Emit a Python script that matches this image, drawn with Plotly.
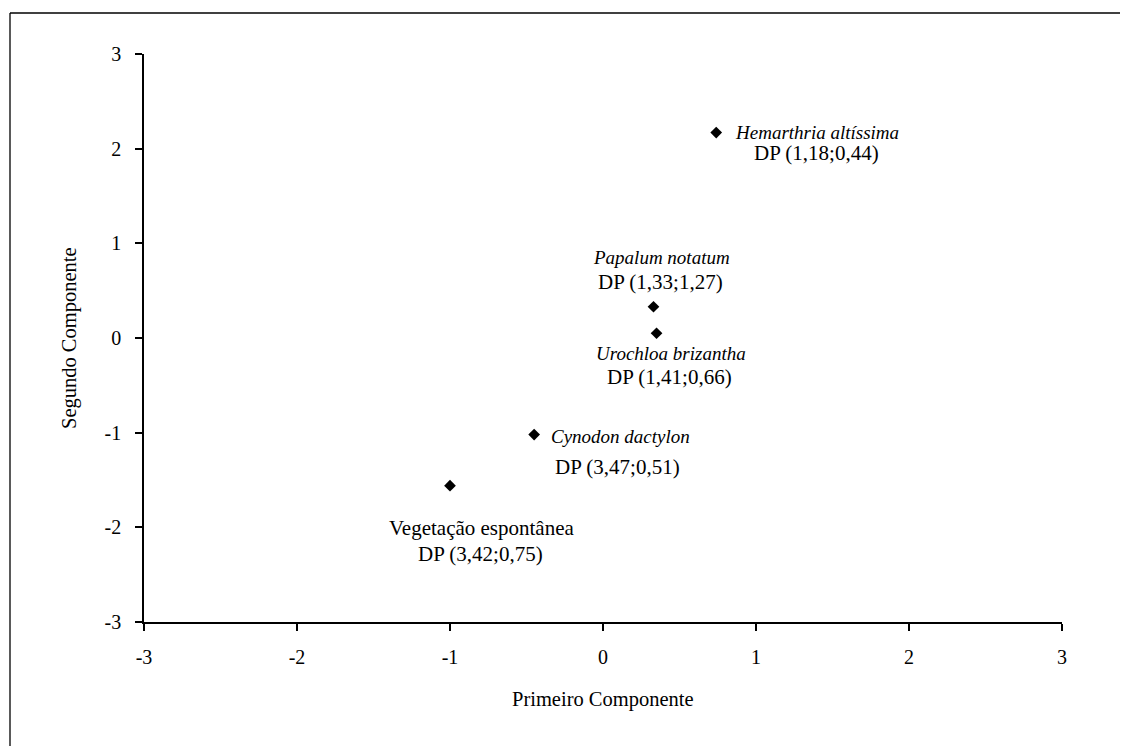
import plotly.graph_objects as go

# ---- data ----
species = ["Hemarthria altíssima", "Papalum notatum", "Urochloa brizantha",
           "Cynodon dactylon", "Vegetação espontânea"]
italic = [True, True, True, True, False]
dp_labels = ["DP (1,18;0,44)", "DP (1,33;1,27)", "DP (1,41;0,66)",
             "DP (3,47;0,51)", "DP (3,42;0,75)"]
pc1 = [0.74, 0.33, 0.35, -0.45, -1.00]
pc2 = [2.17, 0.33, 0.05, -1.02, -1.56]
tick_vals = [-3, -2, -1, 0, 1, 2, 3]
tick_text = ["-3", "-2", "-1", "0", "1", "2", "3"]

# label placement (pixel offsets of each text line centre from its point: dx, dy-down)
name_offsets = [(101, 0), (8, -49), (14, 20), (86, 2), (31, 42)]
dp_offsets = [(100, 20), (7, -25), (13, 44), (83, 32), (30, 68)]

FONT = "Liberation Serif"
W, H = 1120, 738          # page body has an 8px margin
ML, MR, MT, MB = 136, 66, 46, 124

fig = go.Figure()
fig.add_trace(go.Scatter(
    x=pc1, y=pc2, mode="markers",
    marker=dict(symbol="diamond", size=9, color="black"),
    hoverinfo="skip", showlegend=False,
))

annotations = []
for i in range(len(species)):
    if italic[i]:
        name, nsize = f"<i>{species[i]}</i>", 19
    else:
        name, nsize = species[i], 21
    for txt, (dx, dy), fs in ((name, name_offsets[i], nsize), (dp_labels[i], dp_offsets[i], 21)):
        annotations.append(dict(
            x=pc1[i], y=pc2[i], xref="x", yref="y", text=txt, showarrow=False,
            xanchor="center", yanchor="middle", xshift=dx, yshift=-dy,
            font=dict(family=FONT, size=fs, color="black"),
        ))

# axis titles
annotations.append(dict(x=0.5, y=0, xref="paper", yref="paper", text="Primeiro Componente",
                        showarrow=False, xanchor="center", yanchor="middle", yshift=-77,
                        font=dict(family=FONT, size=20.5, color="black")))
annotations.append(dict(x=0, y=0.5, xref="paper", yref="paper", text="Segundo Componente",
                        showarrow=False, xanchor="center", yanchor="middle", xshift=-75,
                        textangle=-90, font=dict(family=FONT, size=20.5, color="black")))

pw = W - ML - MR
ph = H - MT - MB
def px(x):
    return (x - ML) / pw
def py(y):
    return (H - MB - y) / ph

shapes = [
    dict(type="line", xref="paper", yref="paper", x0=px(2), x1=px(2), y0=py(5), y1=py(760),
         line=dict(color="black", width=1.3)),
    dict(type="line", xref="paper", yref="paper", x0=px(2), x1=px(1140), y0=py(5), y1=py(5),
         line=dict(color="black", width=1.3)),
]

axis_common = dict(
    range=[-3, 3], tickvals=tick_vals, ticktext=tick_text,
    showgrid=False, zeroline=False, showline=True, linecolor="black", linewidth=1.5,
    ticks="outside", ticklen=7, tickwidth=1.5, tickcolor="black",
    tickfont=dict(family=FONT, size=20, color="black"),
)
fig.update_xaxes(**axis_common, ticklabelstandoff=9)
fig.update_yaxes(**axis_common, ticklabelstandoff=10)

fig.update_layout(
    width=W, height=H,
    margin=dict(l=ML, r=MR, t=MT, b=MB),
    paper_bgcolor="white", plot_bgcolor="white",
    annotations=annotations, shapes=shapes,
    font=dict(family=FONT, color="black"),
)

fig.write_html("out.html")
